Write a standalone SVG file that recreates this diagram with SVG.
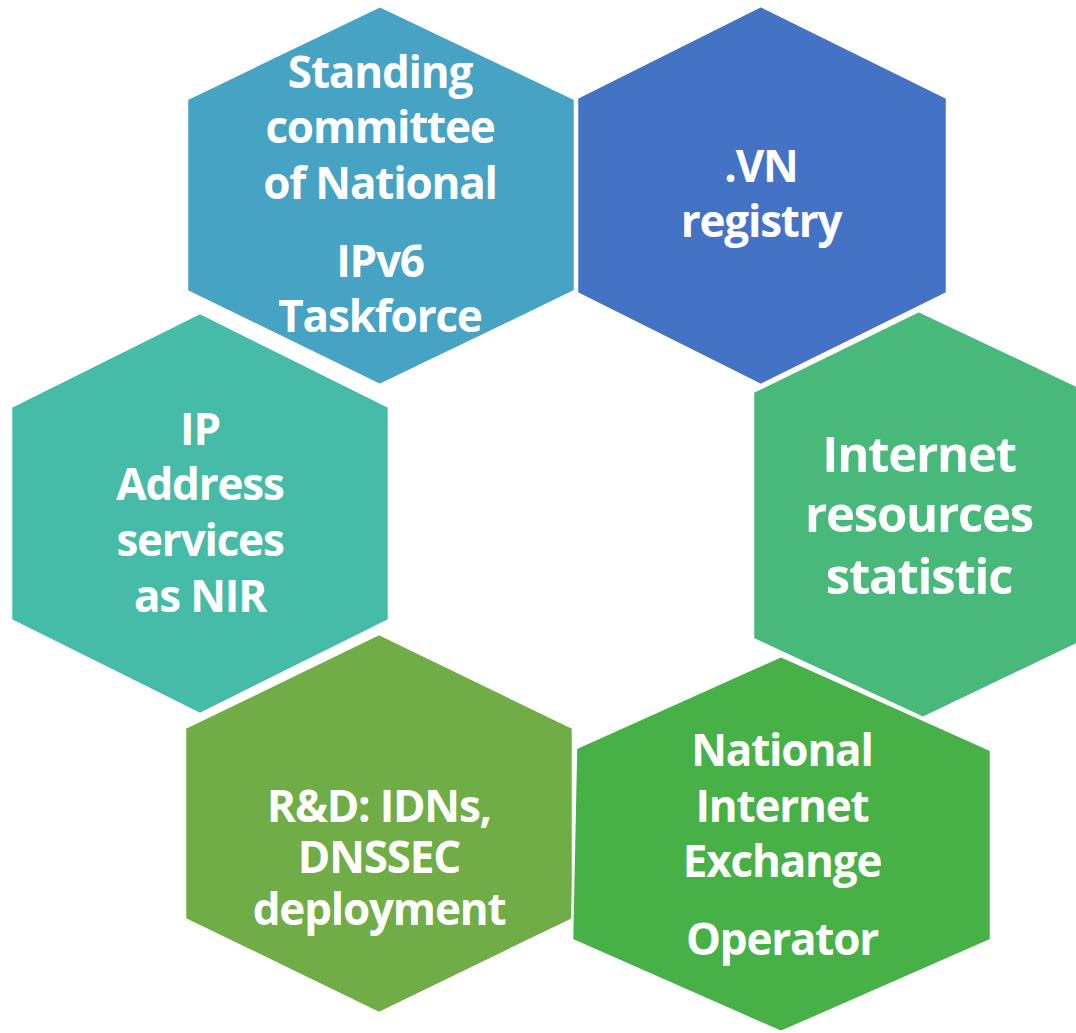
<svg xmlns="http://www.w3.org/2000/svg" width="1076" height="1033" viewBox="0 0 1076 1033">
<style>
.hex{stroke:#ffffff;stroke-width:2.5;stroke-linejoin:miter}
.t{font-family:"Open Sans","Noto Sans","Liberation Sans",sans-serif;font-weight:700;font-size:44px;fill:#ffffff;text-anchor:middle;letter-spacing:-1.2px}
.big{font-size:49px}
</style>
<rect width="1076" height="1033" fill="#ffffff"/>
<g id="connectors"/>
<g id="vn-registry">
<polygon class="hex" fill="#4472C4" points="761,6 947,98 947,293 761,385 577,293 577,98"/>
<text class="t" x="761" y="182">.VN</text>
<text class="t" x="761" y="237">registry</text>
</g>
<g id="standing-committee">
<polygon class="hex" fill="#46A3C3" points="380,6 575,99 575,291 380,385 187,291 187,99"/>
<text class="t" x="380" y="88">Standing</text>
<text class="t" x="380" y="143">committee</text>
<text class="t" x="380" y="199">of National</text>
<text class="t" x="380" y="277">IPv6</text>
<text class="t" x="380" y="332">Taskforce</text>
</g>
<g id="ip-address">
<polygon class="hex" fill="#46BCA8" points="200,313 389,407 389,620 200,714 11,620 11,407"/>
<text class="t" x="200" y="445">IP</text>
<text class="t" x="200" y="500">Address</text>
<text class="t" x="200" y="556">services</text>
<text class="t" x="200" y="612">as NIR</text>
</g>
<g id="rnd">
<polygon class="hex" fill="#70AD47" points="379,634 573,728 573,919 379,1013 185,919 185,728"/>
<text class="t" x="379" y="822">R&amp;D: IDNs,</text>
<text class="t" x="379" y="873">DNSSEC</text>
<text class="t" x="379" y="925">deployment</text>
</g>
<g id="internet-resources">
<polygon class="hex" fill="#48B97A" points="919,311 1090,392 1090,638 923,718 753,639 753,392"/>
<text class="t big" x="919" y="472">Internet</text>
<text class="t big" x="919" y="532">resources</text>
<text class="t big" x="919" y="594">statistic</text>
</g>
<g id="nix-operator">
<polygon class="hex" fill="#47B147" points="781,656 991,750 991,940 781,1032 572,940 576,748"/>
<text class="t" x="782" y="766">National</text>
<text class="t" x="782" y="822">Internet</text>
<text class="t" x="782" y="877">Exchange</text>
<text class="t" x="782" y="955">Operator</text>
</g>
</svg>
